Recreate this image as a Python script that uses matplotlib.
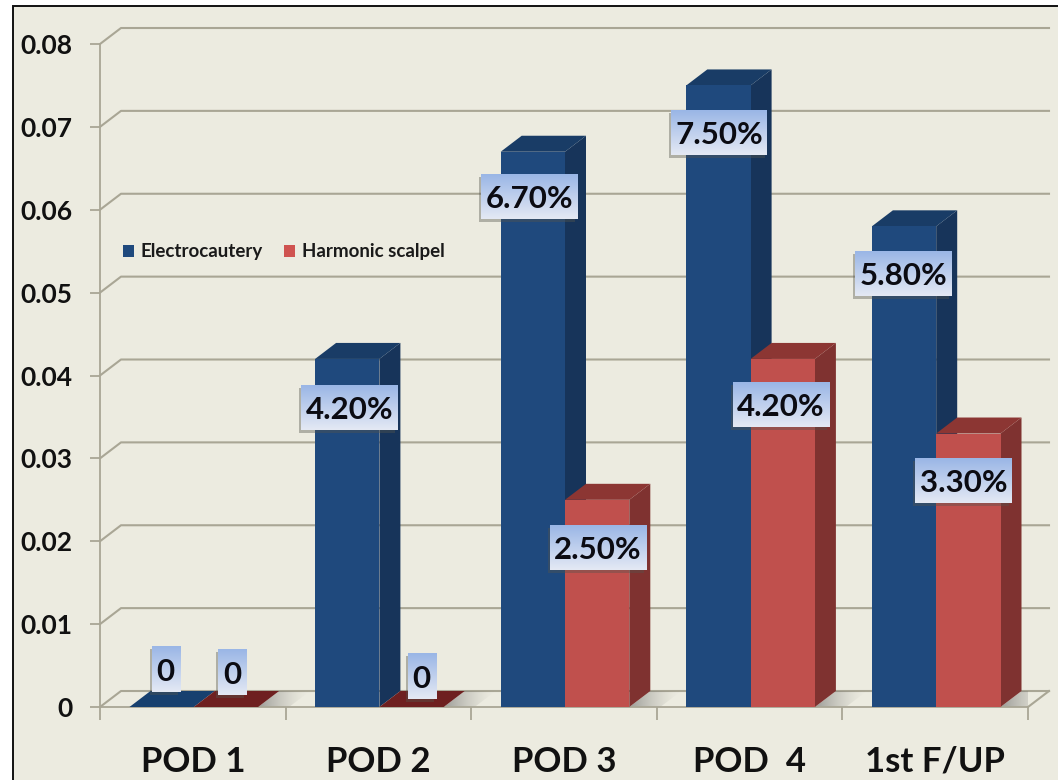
import numpy as np
import matplotlib
matplotlib.use('Agg')
import matplotlib.pyplot as plt
from matplotlib.patches import Patch, Polygon, Rectangle

# ── Datos ─────────────────────────────────────────────────────────────────────
categories = ['POD 1', 'POD 2', 'POD 3', 'POD  4', '1st F/UP']
electrocautery = [0, 0.042, 0.067, 0.075, 0.058]
harmonic = [0, 0, 0.025, 0.042, 0.033]
y_ticks = [0, 0.01, 0.02, 0.03, 0.04, 0.05, 0.06, 0.07, 0.08]
y_tick_labels = ['0', '0.01', '0.02', '0.03', '0.04', '0.05', '0.06', '0.07', '0.08']

# ── Estilo ────────────────────────────────────────────────────────────────────
W, H = 1058, 780
BG = '#ECEBE0'
GRID = '#A9A695'
BLUE = ('#1F497D', '#17345A', '#193C66', '#17406F')   # frente, lateral, tapa, suelo
RED = ('#C0504D', '#7F3230', '#8C3633', '#6E2020')
plt.rcParams['font.family'] = ['Lato', 'DejaVu Sans']
plt.rcParams['font.weight'] = 'bold'

PX_X = 1 / 185.6      # un píxel en unidades de categoría
PX_Y = 0.01 / 82.9    # un píxel en unidades de valor
DX, DY = 21 * PX_X, 16 * PX_Y   # profundidad del falso 3D
BAR_W = 64.3 * PX_X
BAR_START = 29.5 * PX_X

fig = plt.figure(figsize=(W / 100, H / 100), dpi=100, facecolor='white')
fig.add_artist(Rectangle((13 / W, -0.02), 1.02, (780 - 6) / H + 0.02,
                         transform=fig.transFigure, facecolor=BG,
                         edgecolor='#111111', linewidth=1.4, zorder=-1))
ax = fig.add_axes([100 / W, (H - 707) / H, 928 / W, 663 / H])
ax.patch.set_visible(False)
ax.set_autoscale_on(False)
ax.set_xlim(0, len(categories))
ax.set_ylim(0, 0.08)


def gradient(top, bottom, n=64):
    t = np.linspace(0, 1, n)[:, None, None]
    c0 = np.array(matplotlib.colors.to_rgb(top))[None, None, :]
    c1 = np.array(matplotlib.colors.to_rgb(bottom))[None, None, :]
    return c0 * (1 - t) + c1 * t


# ── Paredes y suelo ───────────────────────────────────────────────────────────
for y in y_ticks:
    ax.plot([0, DX, len(categories) + DX], [y, y + DY, y + DY],
            color=GRID, lw=1.5, clip_on=False, zorder=1, solid_joinstyle='round')
ax.plot([len(categories), len(categories) + DX], [0, DY],
        color=GRID, lw=1.5, clip_on=False, zorder=1)

for side in ('top', 'right'):
    ax.spines[side].set_visible(False)
for side in ('left', 'bottom'):
    ax.spines[side].set_color(GRID)
    ax.spines[side].set_linewidth(1.3)

ax.set_yticks(y_ticks, y_tick_labels, fontsize=19, color='#111111')
ax.tick_params(axis='y', length=7, width=1.3, color=GRID, pad=13)
ax.set_xticks(range(len(categories) + 1), [''] * (len(categories) + 1))
ax.tick_params(axis='x', length=9, width=1.3, color=GRID)
ax.set_xticks(np.arange(len(categories)) + 0.5, categories, minor=True,
              fontsize=25, color='#111111')
ax.tick_params(axis='x', which='minor', length=0, pad=28)


# ── Barras ────────────────────────────────────────────────────────────────────
def draw_bar(x, value, colors, z):
    ax.bar(x, value, BAR_W, align='edge', color=colors[0], zorder=z + 0.2)
    side = [(x + BAR_W, 0), (x + BAR_W + DX, DY),
            (x + BAR_W + DX, value + DY), (x + BAR_W, value)]
    top = [(x, value), (x + DX, value + DY),
           (x + BAR_W + DX, value + DY), (x + BAR_W, value)]
    if value > 0:
        ax.add_patch(Polygon(side, facecolor=colors[1], edgecolor='none', zorder=z + 0.1))
    ax.add_patch(Polygon(top, facecolor=colors[2] if value > 0 else colors[3],
                         edgecolor='none', zorder=z + 0.1))


for i, (e, h) in enumerate(zip(electrocautery, harmonic)):
    x_blue = i + BAR_START
    x_red = x_blue + BAR_W
    # sombra sobre el suelo, a la derecha de cada grupo
    x0 = x_red + BAR_W
    shade = np.zeros((1, 64, 4))
    shade[..., :3] = 0.4
    shade[..., 3] = np.linspace(0.7, 0, 64) ** 1.5
    im = ax.imshow(shade, extent=[x0, x0 + 52 * PX_X, 0, DY], aspect='auto',
                   zorder=1.5, clip_on=True, interpolation='bilinear')
    clip = Polygon([(x0, 0), (x0 + DX, DY), (x0 + 52 * PX_X, DY), (x0 + 31 * PX_X, 0)],
                   transform=ax.transData, facecolor='none', edgecolor='none')
    ax.add_patch(clip)
    im.set_clip_path(clip)
    draw_bar(x_blue, e, BLUE, 3 + i)
    draw_bar(x_red, h, RED, 3 + i + 0.5)

ax.set_xlim(0, len(categories))
ax.set_ylim(0, 0.08)

# ── Etiquetas de valor ────────────────────────────────────────────────────────
# desplazamiento (px) del centro de cada etiqueta respecto de la barra
label_shift = {
    (0, 0): (4, 38), (0, 1): (6, 35), (1, 0): (2, -49), (1, 1): (10, 31),
    (2, 0): (-3.5, -45), (2, 1): (0.5, -48), (3, 0): (1, -47), (3, 1): (-2, -46),
    (4, 0): (-1, -47), (4, 1): (-5, -47),
}


def draw_label(cx, cy, text, w, h):
    ax.add_patch(Rectangle((cx - w / 2 * PX_X - 2 * PX_X, cy - h / 2 * PX_Y - 3 * PX_Y),
                           w * PX_X, h * PX_Y, facecolor='#55554d', alpha=0.4,
                           edgecolor='none', zorder=19, clip_on=False))
    ax.imshow(gradient('#9AB6E6', '#E4E9F4'),
              extent=[cx - w / 2 * PX_X, cx + w / 2 * PX_X,
                      cy - h / 2 * PX_Y, cy + h / 2 * PX_Y],
              aspect='auto', zorder=20, clip_on=False)
    ax.text(cx, cy, text, ha='center', va='center_baseline', fontsize=22.5,
            color='#0B0B12', zorder=21, clip_on=False)


for s, series in enumerate((electrocautery, harmonic)):
    for i, value in enumerate(series):
        dx, dy = label_shift[(i, s)]
        cx = i + BAR_START + (s + 0.5) * BAR_W + dx * PX_X
        cy = value + dy * PX_Y
        if value == 0:
            draw_label(cx, cy, '0', 28, 46)
        else:
            draw_label(cx, cy, f'{value * 100:.2f}%', 96, 45)

ax.set_xlim(0, len(categories))
ax.set_ylim(0, 0.08)

# ── Leyenda ───────────────────────────────────────────────────────────────────
handles = [Patch(facecolor=BLUE[0], label='Electrocautery'),
           Patch(facecolor='#CF5350', label='Harmonic scalpel')]
ax.legend(handles=handles, ncol=2, frameon=False, fontsize=13.5,
          loc='center left', bbox_to_anchor=(23 / 928, (707 - 252) / 663),
          handlelength=0.58, handleheight=0.58, handletextpad=0.35,
          columnspacing=1.15, borderpad=0, borderaxespad=0, labelcolor='#1a1a1a')

fig.savefig('out.png', dpi=100, facecolor=fig.get_facecolor())
